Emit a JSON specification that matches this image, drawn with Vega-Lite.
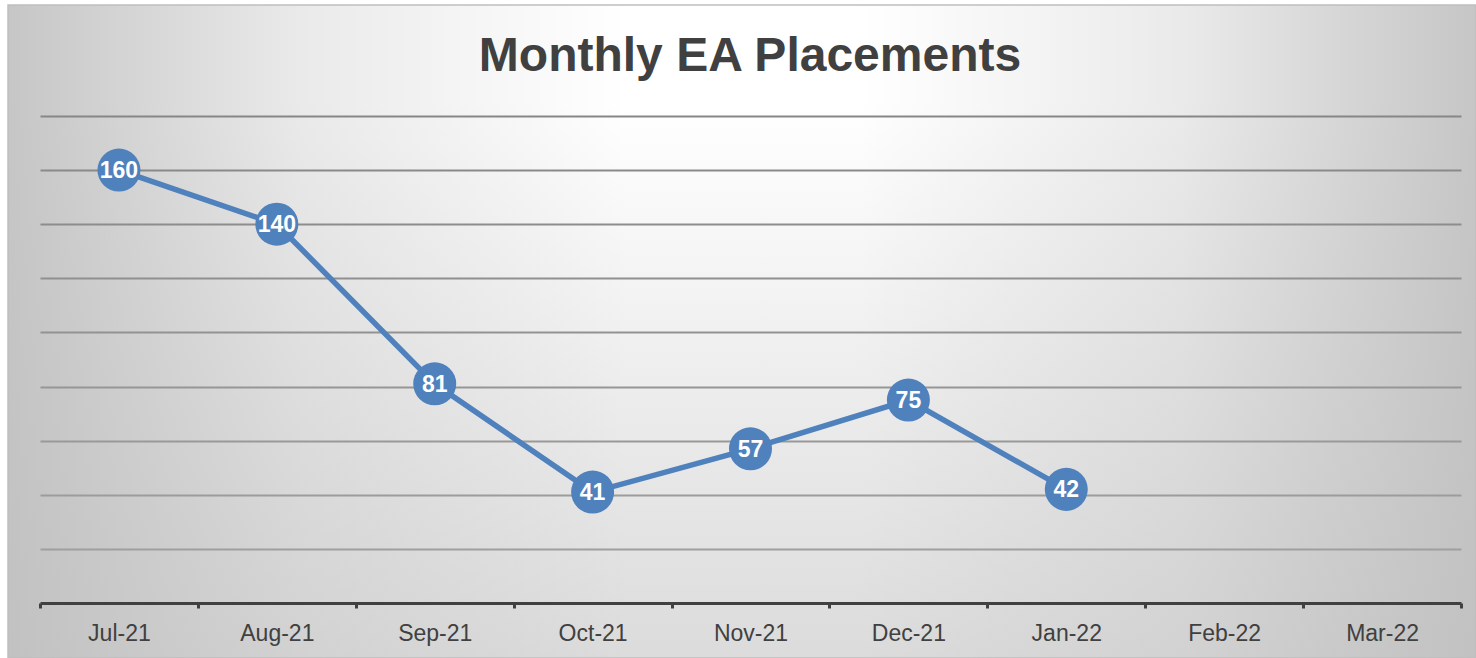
{
  "$schema": "https://vega.github.io/schema/vega-lite/v6.json",
  "width": 1468,
  "height": 653,
  "autosize": {"type": "none"},
  "padding": {"left": 8, "top": 5, "right": 0, "bottom": 0},
  "background": "#ffffff",
  "view": {
    "fill": {
      "gradient": "linear", "x1": 0, "y1": 0, "x2": 1, "y2": 0,
      "stops": [
        {"offset": 0, "color": "#c6c6c6"},
        {"offset": 0.2, "color": "#eaeaea"},
        {"offset": 0.42, "color": "#ffffff"},
        {"offset": 0.58, "color": "#ffffff"},
        {"offset": 0.8, "color": "#eaeaea"},
        {"offset": 1, "color": "#c6c6c6"}
      ]
    },
    "stroke": "#bfbfbf",
    "strokeWidth": 1.5
  },
  "title": {
    "text": "Monthly EA Placements",
    "font": "Liberation Sans",
    "fontSize": 48,
    "fontWeight": "bold",
    "color": "#404040",
    "anchor": "middle",
    "frame": "group",
    "baseline": "alphabetic",
    "offset": -114,
    "dx": 8,
    "zindex": 1
  },
  "data": {
    "values": [
      {"month": "Jul-21", "placements": 160},
      {"month": "Aug-21", "placements": 140},
      {"month": "Sep-21", "placements": 81},
      {"month": "Oct-21", "placements": 41},
      {"month": "Nov-21", "placements": 57},
      {"month": "Dec-21", "placements": 75},
      {"month": "Jan-22", "placements": 42}
    ]
  },
  "layer": [
    {
      "data": {"values": [{"panel": "shade"}]},
      "mark": {
        "type": "rect",
        "fill": {
          "gradient": "linear", "x1": 0, "y1": 0, "x2": 0, "y2": 1,
          "stops": [
            {"offset": 0, "color": "rgba(190,190,190,0)"},
            {"offset": 0.15, "color": "rgba(190,190,190,0)"},
            {"offset": 1, "color": "rgba(190,190,190,0.55)"}
          ]
        }
      },
      "encoding": {}
    },
    {
      "mark": {"type": "line", "color": "#4f81bd", "strokeWidth": 5.5},
      "encoding": {
        "x": {
          "field": "month", "type": "ordinal", "sort": null,
          "scale": {
            "type": "band",
            "domain": ["Jul-21", "Aug-21", "Sep-21", "Oct-21", "Nov-21", "Dec-21", "Jan-22", "Feb-22", "Mar-22"],
            "range": [32, 1453],
            "paddingInner": 0,
            "paddingOuter": 0
          },
          "axis": {
            "title": null,
            "labelAngle": 0,
            "labelFont": "Liberation Sans",
            "labelFontSize": 23,
            "labelColor": "#404040",
            "labelBaseline": "alphabetic",
            "labelPadding": 32,
            "domainColor": "#404040",
            "domainWidth": 3,
            "tickColor": "#404040",
            "tickWidth": 3,
            "tickSize": 5,
            "tickBand": "extent",
            "offset": -55,
            "grid": false,
            "zindex": 1
          }
        },
        "y": {
          "field": "placements", "type": "quantitative",
          "scale": {"domain": [0, 180], "range": [598, 111], "nice": false, "zero": true},
          "axis": {
            "title": null,
            "labels": false,
            "ticks": false,
            "domain": false,
            "grid": true,
            "gridColor": "#868686",
            "gridWidth": 2,
            "values": [20, 40, 60, 80, 100, 120, 140, 160, 180],
            "zindex": 0
          }
        }
      }
    },
    {
      "mark": {"type": "point", "filled": true, "shape": "circle", "size": 1850, "color": "#4f81bd", "opacity": 1},
      "encoding": {
        "x": {"field": "month", "type": "ordinal", "sort": null},
        "y": {"field": "placements", "type": "quantitative"}
      }
    },
    {
      "mark": {"type": "text", "color": "#ffffff", "font": "Liberation Sans", "fontSize": 23, "fontWeight": "bold", "align": "center", "baseline": "middle", "dy": 1},
      "encoding": {
        "x": {"field": "month", "type": "ordinal", "sort": null},
        "y": {"field": "placements", "type": "quantitative"},
        "text": {"field": "placements", "type": "quantitative"}
      }
    }
  ]
}
